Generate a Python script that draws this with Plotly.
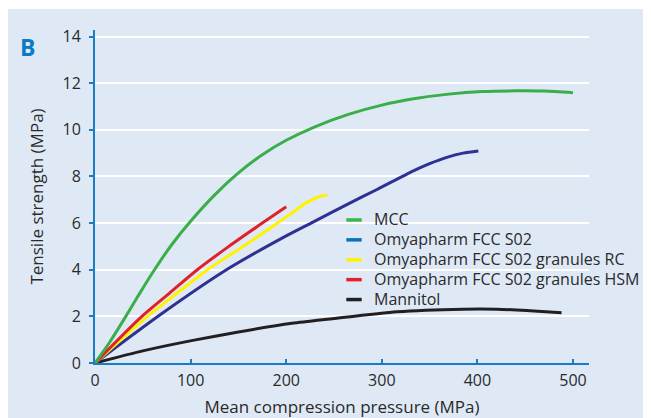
import plotly.graph_objects as go

# ---- data ----
names = ["MCC", "Omyapharm FCC S02", "Omyapharm FCC S02 granules RC",
         "Omyapharm FCC S02 granules HSM", "Mannitol"]

mcc_x = [0, 15, 30, 45, 60, 80, 100, 125, 150, 175, 200, 230, 265, 300, 335, 370, 405, 440, 470, 500]
mcc_y = [0, 0.87, 1.85, 2.87, 3.86, 5.06, 6.08, 7.2, 8.15, 8.93, 9.55, 10.13, 10.66, 11.06, 11.34, 11.53, 11.64, 11.67, 11.66, 11.59]

fcc_x = [0, 70, 140, 200, 226, 267, 295, 333, 350, 368, 385, 401]
fcc_y = [0, 2.12, 4.06, 5.45, 6.0, 6.87, 7.44, 8.24, 8.55, 8.82, 9.0, 9.09]

rc_x = [0, 55, 86, 117, 155, 191, 208, 222, 235, 243]
rc_y = [0, 2.0, 3.0, 3.98, 5.0, 6.0, 6.5, 6.9, 7.14, 7.2]

hsm_x = [0, 49, 78, 107, 140, 175, 200]
hsm_y = [0, 2.0, 3.0, 4.0, 5.0, 6.0, 6.7]

man_x = [0, 50, 101, 150, 206, 246, 316, 385, 420, 455, 488]
man_y = [0, 0.52, 0.96, 1.33, 1.70, 1.89, 2.2, 2.31, 2.31, 2.24, 2.16]

x_ticks = [0, 100, 200, 300, 400, 500]
y_ticks = [0, 2, 4, 6, 8, 10, 12, 14]

line_colors = ["#3aae48", "#2e3192", "#fff200", "#dd2229", "#231f20"]
legend_colors = ["#3db54a", "#0a72ba", "#fff200", "#e4202a", "#231f20"]

BG = "#dfe9f6"
AX = "#1a7dc4"
TXT = "#2a2a2a"
FONT = "Open Sans"

series = [(mcc_x, mcc_y), (fcc_x, fcc_y), (rc_x, rc_y), (hsm_x, hsm_y), (man_x, man_y)]

fig = go.Figure()
for i in [4, 1, 2, 3, 0]:
    xs, ys = series[i]
    fig.add_trace(go.Scatter(x=xs, y=ys, mode="lines", showlegend=False,
                             line=dict(color=line_colors[i], width=3, shape="spline", smoothing=0.7),
                             hoverinfo="skip"))
for i, n in enumerate(names):
    fig.add_trace(go.Scatter(x=[None], y=[None], mode="markers",
                             name='<span style="font-size:16px">' + n + '</span>',
                             marker=dict(symbol="line-ew", size=11, color=legend_colors[i],
                                         line=dict(color=legend_colors[i], width=3.5))))

# page has an 8px body margin; figure is sized to fit the 651x418 window
OFF = 8
W, H = 651 - OFF, 418 - OFF
L, T = 95 - OFF, 30 - OFF
pw, ph = 494, 333
R, B = W - L - pw, H - T - ph

def px(X):
    return (X - 95) / pw

def py(Y):
    return (363 - Y) / ph

fig.update_layout(
    width=W, height=H,
    margin=dict(l=L, r=R, t=T, b=B, autoexpand=False),
    paper_bgcolor=BG, plot_bgcolor=BG,
    font=dict(family=FONT, color=TXT, size=16),
    showlegend=True,
    legend=dict(x=px(334), y=py(205), xanchor="left", yanchor="top",
                bgcolor="rgba(0,0,0,0)", font=dict(size=13, family=FONT, color=TXT),
                itemwidth=30, tracegroupgap=0),
    xaxis=dict(range=[0, 516.7], tickvals=x_ticks, ticks="inside", ticklen=4, tickwidth=1.5,
               tickcolor=AX, showline=True, linecolor=AX, linewidth=2, showgrid=False,
               zeroline=False, tickfont=dict(size=16, color=TXT), automargin=False,
               ticklabelstandoff=2,
               title=dict(text="Mean compression pressure (MPa)", font=dict(size=17, color=TXT), standoff=16)),
    yaxis=dict(range=[0, 14.28], tickvals=y_ticks, ticks="outside", ticklen=4, tickwidth=1.5,
               tickcolor=AX, showline=True, linecolor=AX, linewidth=2, showgrid=True,
               gridcolor="white", gridwidth=1.5, zeroline=False, tickfont=dict(size=16, color=TXT),
               automargin=False, ticklabelstandoff=5,
               title=dict(text="Tensile strength (MPa)", font=dict(size=17, color=TXT), standoff=15)),
    shapes=[
        dict(type="rect", xref="paper", yref="paper", x0=-1, x1=2,
             y0=py(9), y1=2, fillcolor="white", line=dict(width=0), layer="above"),
    ],
    annotations=[
        dict(text="<b>B</b>", xref="paper", yref="paper", x=px(27), y=py(47),
             xanchor="center", yanchor="middle", showarrow=False,
             font=dict(size=23, color="#0a7bc4", family=FONT)),
    ],
)

fig.write_html("out.html")
